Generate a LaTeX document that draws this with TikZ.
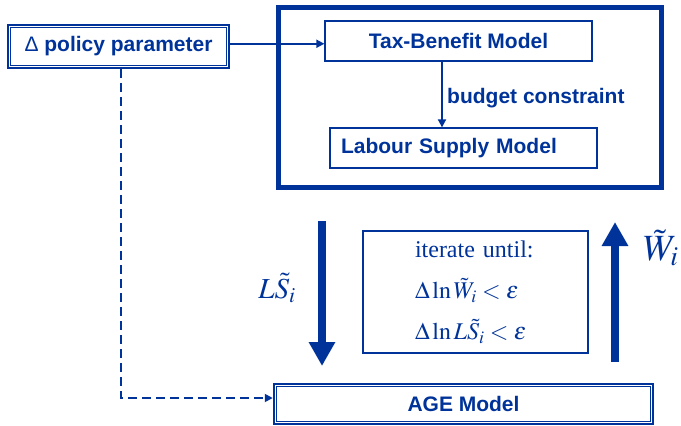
\documentclass[tikz,border=0pt]{standalone}
\usepackage{mathptmx}
\usepackage{fontspec}
\setmainfont{Liberation Serif}
\newfontfamily\arialfont{Liberation Sans}
\usetikzlibrary{arrows.meta,calc}
\definecolor{navy}{RGB}{0,51,153}
\begin{document}
\begin{tikzpicture}[x=1pt,y=-1pt,
  every node/.style={text=navy},
  lbl/.style={font=\arialfont\bfseries\fontsize{21}{25}\selectfont},
  thinbox/.style={draw=navy, line width=1.3pt, inner sep=0pt},
  dblouter/.style={draw=navy, line width=2.5pt, inner sep=0pt},
  innerline/.style={draw=navy, line width=1pt},
  tip/.style={-{Triangle[length=8pt,width=8pt]}},
  conn/.style={draw=navy, line width=1.8pt},
  bigarrow/.style={draw=navy, line width=8pt, -{Triangle[length=24pt,width=25pt]}},
]
\useasboundingbox (0,0) rectangle (681,426);

% outer model box
\node[draw=navy, line width=3.5pt, minimum width=384pt, minimum height=181pt, inner sep=0pt] (big) at (470,97.5) {};
\draw[navy, line width=1.2pt] ([shift={(4.5,4.5)}]big.north west) rectangle ([shift={(-4.5,-4.5)}]big.south east);

% policy box
\node[dblouter, lbl, minimum width=221pt, minimum height=43pt] (pol) at (118.5,46.5) {{\mdseries Δ} policy parameter};
\draw[innerline] ([shift={(3.6,3.6)}]pol.north west) rectangle ([shift={(-3.6,-3.6)}]pol.south east);

% tax-benefit and labour supply
\node[thinbox, lbl, minimum width=267pt, minimum height=40pt] (tb) at (458.5,41) {Tax-Benefit Model};
\node[thinbox, lbl, minimum height=40pt, text width=245pt, inner xsep=11pt, align=left] (ls) at (463.5,148) {Labour Supply Model};

% AGE box
\node[dblouter, lbl, minimum width=379pt, minimum height=40pt] (age) at (463.5,404) {AGE Model};
\draw[innerline] ([shift={(3.6,3.6)}]age.north west) rectangle ([shift={(-3.6,-3.6)}]age.south east);

% iterate box
\node[thinbox, font=\fontsize{24}{41}\selectfont, text width=121pt, inner xsep=52pt, minimum height=122pt, align=left] (it) at (475.5,292)
  {iterate until:\\ $\Delta\ln\tilde W_i<\varepsilon$\\ $\Delta\ln L\tilde S_i<\varepsilon$};

% connectors
\coordinate (m) at ($(pol.east)!0.5!(tb.west)$);
\draw[conn, tip] (pol.east |- m) -- (tb.west |- m);
\draw[conn, tip] ([xshift=-16.5pt]tb.south) -- ([xshift=-16.5pt]tb.south |- ls.north);
\node[lbl, anchor=west, inner sep=0pt] (bc) at (447,98) {budget constraint};
\draw[conn, dash pattern=on 9pt off 5pt, tip] ([xshift=2.5pt]pol.south) |- ([yshift=6pt]age.west);

% big arrows
\coordinate (da) at (322,221);
\coordinate (db) at (322,366);
\draw[bigarrow] (da) -- (db);
\coordinate (ua) at (615,362);
\coordinate (ub) at (615,222);
\draw[bigarrow] (ua) -- (ub);

% labels
\node[font=\fontsize{29}{32}\selectfont] (lsl) at (277,288) {$L\tilde S_i$};
\node[font=\fontsize{37}{42}\selectfont, anchor=west, inner sep=0pt] (wl) at (643,248) {$\tilde W_i$};
\end{tikzpicture}
\end{document}
